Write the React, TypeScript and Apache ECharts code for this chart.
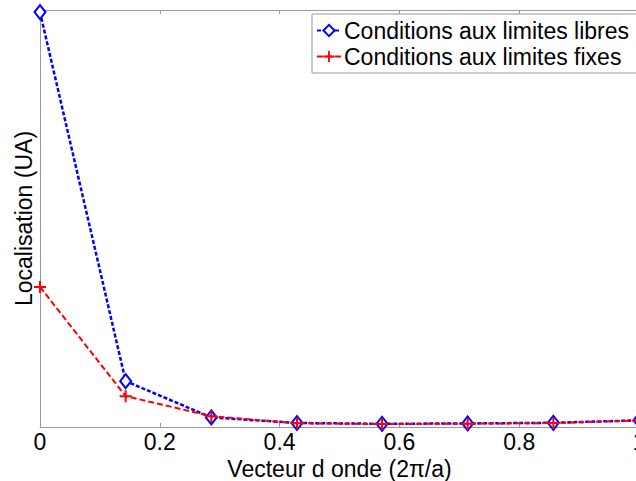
import React, { useEffect, useRef } from "react";
import * as echarts from "echarts";

const waveVector = [0, 0.143, 0.286, 0.429, 0.571, 0.714, 0.857, 1];
const freeBoundary = [0.995, 0.11, 0.023, 0.0096, 0.0077, 0.0085, 0.0101, 0.016];
const fixedBoundary = [0.336, 0.074, 0.026, 0.009, 0.007, 0.008, 0.0095, 0.0155];
const xTicks = [0, 0.2, 0.4, 0.6, 0.8, 1];
const seriesNames = ["Conditions aux limites libres", "Conditions aux limites fixes"];
const xName = "Vecteur d onde (2\u03c0/a)";
const yName = "Localisation (UA)";

const FONT = "'Liberation Sans', Arial, Helvetica, sans-serif";
const FS = 23;
const AXIS = "#999999";
const PLUS = "path://M5,0 H7 V5 H12 V7 H7 V12 H5 V7 H0 V5 H5 Z";

export default function App() {
  const ref = useRef<HTMLDivElement>(null);
  useEffect(() => {
    if (!ref.current) return;
    const chart = echarts.init(ref.current, null, { renderer: "svg" });
    const pair = (ys: number[]) => waveVector.map((x, i) => [x, ys[i]]);
    chart.setOption({
      animation: false,
      backgroundColor: "#ffffff",
      textStyle: { fontFamily: FONT },
      grid: {
        left: 40,
        top: 10,
        width: 599,
        height: 417,
        containLabel: false,
        outerBoundsMode: "none",
      },
      legend: {
        orient: "vertical",
        left: 312,
        top: 14,
        padding: [5, 9, 5, 4],
        itemGap: 3,
        itemWidth: 24,
        itemHeight: 14,
        backgroundColor: "#ffffff",
        borderColor: AXIS,
        borderWidth: 1,
        borderRadius: 0,
        textStyle: { fontFamily: FONT, fontSize: FS, color: "#000", padding: [0, 0, 0, -2] },
        data: seriesNames,
      },
      xAxis: [
        {
          type: "value",
          min: 0,
          max: 1,
          interval: 0.2,
          position: "bottom",
          name: xName,
          nameLocation: "middle",
          nameGap: 25,
          nameTextStyle: { fontFamily: FONT, fontSize: FS, color: "#000" },
          axisLine: { show: true, lineStyle: { color: AXIS, width: 1 } },
          axisTick: { show: true, inside: true, length: 4, lineStyle: { color: AXIS } },
          axisLabel: {
            fontFamily: FONT,
            fontSize: FS,
            color: "#000",
            margin: 3,
            formatter: (v: number) => {
              const t = xTicks.find((k) => Math.abs(k - v) < 1e-9);
              return t === undefined ? "" : String(t);
            },
          },
          splitLine: { show: false },
        },
        {
          type: "value",
          min: 0,
          max: 1,
          interval: 0.2,
          position: "top",
          axisLine: { show: true, lineStyle: { color: AXIS, width: 1 } },
          axisTick: { show: true, inside: true, length: 4, lineStyle: { color: AXIS } },
          axisLabel: { show: false },
          splitLine: { show: false },
        },
      ],
      yAxis: {
        type: "value",
        min: 0,
        max: 1,
        name: yName,
        nameLocation: "middle",
        nameGap: 5,
        nameTextStyle: { fontFamily: FONT, fontSize: FS, color: "#000" },
        axisLine: { show: true, lineStyle: { color: AXIS, width: 1 } },
        axisTick: { show: false },
        axisLabel: { show: false },
        splitLine: { show: false },
      },
      series: [
        {
          name: seriesNames[0],
          type: "line",
          data: pair(freeBoundary),
          symbol: "diamond",
          symbolSize: [11, 14],
          color: "#0000ff",
          lineStyle: { color: "#0000ff", width: 2.5, type: [4, 2] },
          itemStyle: { color: "#ffffff", borderColor: "#0000ff", borderWidth: 2 },
          z: 2,
        },
        {
          name: seriesNames[1],
          type: "line",
          data: pair(fixedBoundary),
          symbol: PLUS,
          symbolSize: 12,
          color: "#ff0000",
          lineStyle: { color: "#ff0000", width: 2, type: [6, 3] },
          itemStyle: { color: "#ff0000", borderWidth: 0 },
          z: 3,
        },
      ],
    });
    return () => chart.dispose();
  }, []);
  return (
    <div
      ref={ref}
      style={{ position: "absolute", left: 0, top: 0, width: 636, height: 481 }}
    />
  );
}
